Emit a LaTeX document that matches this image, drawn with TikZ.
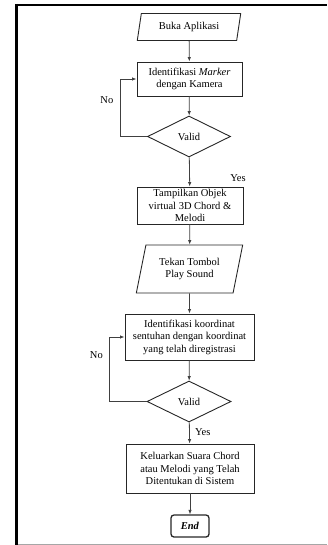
\documentclass[tikz,border=0pt]{standalone}
\usepackage{fontspec}
\setmainfont{Liberation Serif}
\usetikzlibrary{arrows.meta,shapes.geometric,positioning}

\tikzset{
  process/.style={draw=black!85, line width=0.9pt, rectangle, align=center, inner sep=1pt},
  io/.style={draw=black!85, line width=0.9pt, trapezium, trapezium stretches=true, align=center, inner sep=1pt},
  decision/.style={draw=black!85, line width=0.9pt, diamond, aspect=2, inner sep=1pt},
  terminal/.style={draw=black!85, line width=1.3pt, rectangle, rounded corners=3pt, inner sep=1pt},
  flow/.style={draw=black!75, line width=0.8pt, -{Latex[length=4.5pt,width=3.5pt]}}
}

\begin{document}
\begin{tikzpicture}[x=1pt, y=-1pt, font=\fontsize{10.5}{12.5}\selectfont]
        \useasboundingbox (0, 0) rectangle (327, 545);
        % frame
        \draw[line width=2pt] (15, 5) -- (327, 5);
        \draw[line width=3pt] (16.5, 4) -- (16.5, 545);
        \draw[gray!70, line width=1pt] (18, 544) -- (327, 544);

        % nodes
        \node[io, minimum width=104pt, minimum height=27pt,
              trapezium left angle=77, trapezium right angle=103] (buka) at (189, 27) {Buka Aplikasi};
        \node[process, minimum width=105pt, minimum height=34pt] (ident) at (189.5, 79)
              {Identifikasi \textit{Marker}\\dengan Kamera};
        \node[decision, minimum width=83pt, minimum height=41pt] (valid1) at (189, 136.5) {Valid};
        \node[process, minimum width=106pt, minimum height=37pt] (tampil) at (190, 205.5)
              {Tampilkan Objek\\virtual 3D Chord \&\\Melodi};
        \node[io, minimum width=107pt, minimum height=48pt,
              trapezium left angle=74, trapezium right angle=106] (tekan) at (189.5, 269)
              {Tekan Tombol\\Play Sound};
        \node[process, minimum width=129pt, minimum height=46pt] (koord) at (189.5, 337)
              {Identifikasi koordinat\\sentuhan dengan koordinat\\yang telah diregistrasi};
        \node[decision, minimum width=84pt, minimum height=41pt] (valid2) at (189, 401.5) {Valid};
        \node[process, minimum width=128pt, minimum height=49pt] (keluar) at (190, 468.5)
              {Keluarkan Suara Chord\\atau Melodi yang Telah\\Ditentukan di Sistem};
        \node[terminal, minimum width=38pt, minimum height=22pt] (end) at (190, 526)
              {\textbf{\textit{End}}};

        % connectors
        \draw[flow] (buka) -- (ident);
        \draw[flow] (ident) -- (valid1);
        \draw[flow] (valid1.west) -- ++(-27, 0) |- node[pos=0.32, left=3pt] {No} (ident.west);
        \draw[flow] (valid1) -- (tampil);
        \node (yes1) at (238, 178) {Yes};
        \draw[flow] (tampil) -- (tekan);
        \draw[flow] (tekan) -- (koord);
        \draw[flow] (koord) -- (valid2);
        \draw[flow] (valid2.west) -- ++(-37, 0) |- node[pos=0.36, left=3pt] {No} (koord.west);
        \draw[flow] (valid2) -- node[pos=0.45, right=2pt] {Yes} (keluar);
        \draw[flow] (keluar) -- (end);
\end{tikzpicture}
\end{document}
